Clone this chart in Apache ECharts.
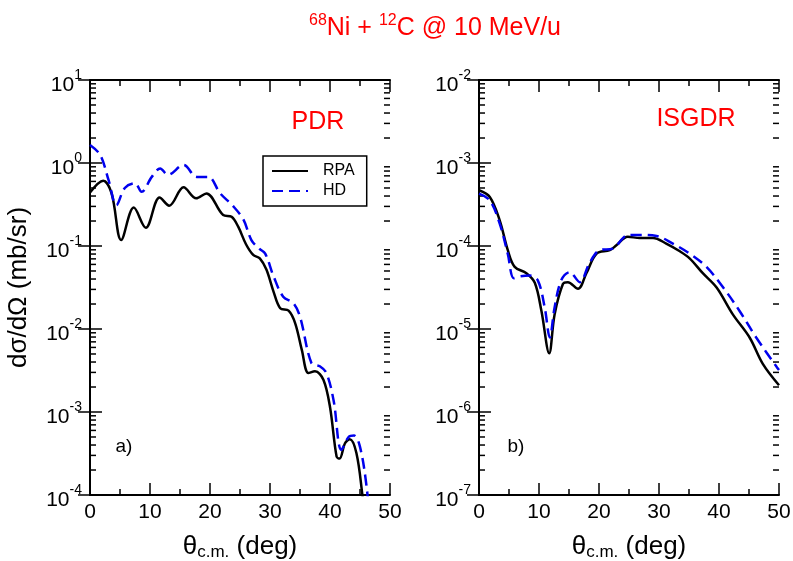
<!DOCTYPE html>
<html><head><meta charset="utf-8">
<script src="https://cdn.jsdelivr.net/npm/echarts@6/dist/echarts.min.js"></script>
<style>html,body{margin:0;padding:0;background:#fff}#c{width:793px;height:561px}</style>
</head><body><div id="c"></div>
<script>
// ---- Data (angle in deg, cross section in mb/sr) ----
const pdrRpaX = [0, 2.2, 3.6, 5.2, 7.3, 9.3, 11.6, 13.2, 15.6, 17.7, 19.4, 22.2, 23.6, 24.7, 26.0, 27.2, 28.3, 29.4, 30.6, 31.7, 33.1, 34.2, 35.3, 36.4, 37.5, 38.9, 40.0, 41.1, 41.6, 42.5, 43.3, 44.4, 45.4, 46.0];
const pdrRpaY = [0.44, 0.61, 0.43, 0.118, 0.29, 0.166, 0.385, 0.306, 0.51, 0.375, 0.43, 0.236, 0.225, 0.171, 0.105, 0.078, 0.071, 0.052, 0.028, 0.0178, 0.0166, 0.0117, 0.0056, 0.00295, 0.0031, 0.00245, 0.00115, 0.00029, 0.000275, 0.00042, 0.00047, 0.00032, 0.0001, 0.00004];
const pdrHdX = [0, 1.7, 3.1, 4.4, 5.8, 7.5, 8.6, 10.3, 11.7, 13.0, 15.6, 17.8, 19.7, 21.7, 23.9, 25.6, 26.9, 28.2, 29.2, 30.6, 32.2, 33.9, 35.0, 36.9, 38.3, 39.4, 40.6, 41.9, 43.1, 44.0, 45.0, 46.1, 46.7];
const pdrHdY = [1.65, 1.25, 0.62, 0.31, 0.50, 0.57, 0.45, 0.68, 0.86, 0.72, 0.95, 0.68, 0.68, 0.43, 0.30, 0.206, 0.118, 0.093, 0.081, 0.043, 0.0245, 0.0204, 0.0141, 0.0039, 0.00355, 0.00295, 0.00138, 0.00035, 0.0005, 0.00052, 0.00038, 0.000126, 0.00004];

const isgRpaX = [0, 1.8, 3.45, 4.8, 5.95, 7.9, 9.3, 10.4, 11.7, 12.6, 14.0, 14.8, 16.5, 17.9, 19.6, 21.8, 22.9, 24.8, 26.8, 29.0, 31.2, 33.4, 35.1, 37.3, 39.6, 42.3, 45.1, 47.3, 50];
const isgRpaY = [4.7e-4, 3.9e-4, 2.04e-4, 8.9e-5, 5.6e-5, 4.7e-5, 3.6e-5, 1.66e-5, 5.1e-6, 1.5e-5, 3.5e-5, 3.67e-5, 3.05e-5, 4.7e-5, 8.1e-5, 8.9e-5, 1.02e-4, 1.29e-4, 1.25e-4, 1.25e-4, 1.07e-4, 8.7e-5, 7.1e-5, 4.7e-5, 3.16e-5, 1.5e-5, 7.9e-6, 3.8e-6, 2.1e-6];
const isgHdX = [0, 1.8, 3.45, 4.8, 5.8, 6.8, 8.45, 9.8, 10.95, 11.8, 12.6, 13.7, 15.1, 16.8, 18.4, 20.1, 22.3, 24.8, 26.8, 29.6, 32.3, 35.1, 37.9, 40.7, 43.4, 46.2, 49.6, 50];
const isgHdY = [4.27e-4, 3.55e-4, 1.86e-4, 8.0e-5, 4.1e-5, 4.3e-5, 4.4e-5, 3.85e-5, 1.82e-5, 7.9e-6, 1.82e-5, 3.85e-5, 4.84e-5, 3.67e-5, 6.2e-5, 8.9e-5, 9.3e-5, 1.35e-4, 1.36e-4, 1.32e-4, 1.07e-4, 8.1e-5, 5.6e-5, 3.16e-5, 1.66e-5, 7.9e-6, 3.5e-6, 3.2e-6];

const seriesNames = ['RPA', 'HD'];
const panelLabels = ['PDR', 'ISGDR'];
const panelTags = ['a)', 'b)'];
const leftDecades = [-4, -3, -2, -1, 0];
const rightDecades = [-7, -6, -5, -4, -3];
const minorMult = [2, 3, 4, 5, 6, 7, 8, 9];

function zip(xs, ys) { return xs.map((x, i) => [x, ys[i]]); }
function minorVals(decs) {
  const out = [];
  decs.forEach(d => minorMult.forEach(m => out.push([0, m * Math.pow(10, d)])));
  return out;
}

const FONT = '"Liberation Sans", Arial, sans-serif';
const chart = echarts.init(document.getElementById('c'), null, {renderer: 'canvas'});

const grids = [
  {left: 90, top: 80, width: 300, height: 415},
  {left: 479, top: 80, width: 300, height: 415}
];
const yRanges = [[1e-4, 1e1], [1e-7, 1e-2]];

const xAxes = [], yAxes = [];
[0, 1].forEach(g => {
  xAxes.push({
    type: 'value', gridIndex: g, min: 0, max: 50, interval: 10, position: 'bottom',
    axisLine: {lineStyle: {color: '#000', width: 2}},
    axisTick: {inside: true, length: 12, lineStyle: {color: '#000', width: 1.5}},
    minorTick: {show: true, splitNumber: 2, length: 6, lineStyle: {color: '#000', width: 1.5}},
    splitLine: {show: false},
    axisLabel: {color: '#000', fontSize: 21, fontFamily: FONT, margin: 7},
    name: 'θ{sub|c.m.} (deg)', nameLocation: 'middle', nameGap: 37,
    nameTextStyle: {color: '#000', fontSize: 26, fontFamily: FONT,
      rich: {sub: {fontSize: 17, fontFamily: FONT, color: '#000', verticalAlign: 'bottom', padding: [12, 0, 0, 0]}}}
  });
  xAxes.push({
    type: 'value', gridIndex: g, min: 0, max: 50, interval: 10, position: 'top',
    axisLine: {lineStyle: {color: '#000', width: 2}},
    axisTick: {inside: true, length: 12, lineStyle: {color: '#000', width: 1.5}},
    minorTick: {show: true, splitNumber: 2, length: 6, lineStyle: {color: '#000', width: 1.5}},
    splitLine: {show: false}, axisLabel: {show: false}
  });
  const lbl = {
    color: '#000', fontSize: 21, fontFamily: FONT, margin: 8,
    formatter: v => '{b|10}{sup|' + Math.round(Math.log10(v)) + '}',
    rich: {
      b: {fontSize: 21, fontFamily: FONT, color: '#000', padding: [10, 0, 0, 0]},
      sup: {fontSize: 14, fontFamily: FONT, color: '#000', verticalAlign: 'top', padding: [4, 0, 0, 0]}
    }
  };
  yAxes.push({
    type: 'log', logBase: 10, gridIndex: g, min: yRanges[g][0], max: yRanges[g][1], position: 'left',
    axisLine: {lineStyle: {color: '#000', width: 2}},
    axisTick: {inside: true, length: 12, lineStyle: {color: '#000', width: 1.5}},
    splitLine: {show: false}, axisLabel: lbl,
    name: g === 0 ? 'dσ/dΩ (mb/sr)' : '', nameLocation: 'middle', nameGap: 58,
    nameTextStyle: {color: '#000', fontSize: 26, fontFamily: FONT}
  });
  yAxes.push({
    type: 'log', logBase: 10, gridIndex: g, min: yRanges[g][0], max: yRanges[g][1], position: 'right',
    axisLine: {lineStyle: {color: '#000', width: 2}},
    axisTick: {inside: true, length: 12, lineStyle: {color: '#000', width: 1.5}},
    splitLine: {show: false}, axisLabel: {show: false}
  });
});

function minorRender(params, api) {
  const cs = params.coordSys;
  const p = api.coord([api.value(0), api.value(1)]);
  const y = p[1];
  const st = {stroke: '#000', lineWidth: 1.5};
  return {type: 'group', children: [
    {type: 'line', shape: {x1: cs.x, y1: y, x2: cs.x + 6, y2: y}, style: st},
    {type: 'line', shape: {x1: cs.x + cs.width - 6, y1: y, x2: cs.x + cs.width, y2: y}, style: st}
  ]};
}

const lineBase = {type: 'line', showSymbol: false, symbol: 'none', smooth: 0.35, clip: true, z: 3};
const rpaStyle = {color: '#000', width: 2.5, type: 'solid'};
const hdStyle = {color: '#0000ee', width: 2.5, type: [11, 6]};

const series = [
  Object.assign({}, lineBase, {name: seriesNames[0], xAxisIndex: 0, yAxisIndex: 0, data: zip(pdrRpaX, pdrRpaY), lineStyle: rpaStyle, itemStyle: {color: '#000'}}),
  Object.assign({}, lineBase, {name: seriesNames[1], xAxisIndex: 0, yAxisIndex: 0, data: zip(pdrHdX, pdrHdY), lineStyle: hdStyle, itemStyle: {color: '#0000ee'}}),
  Object.assign({}, lineBase, {name: seriesNames[0], xAxisIndex: 2, yAxisIndex: 2, data: zip(isgRpaX, isgRpaY), lineStyle: rpaStyle, itemStyle: {color: '#000'}}),
  Object.assign({}, lineBase, {name: seriesNames[1], xAxisIndex: 2, yAxisIndex: 2, data: zip(isgHdX, isgHdY), lineStyle: hdStyle, itemStyle: {color: '#0000ee'}}),
  {type: 'custom', xAxisIndex: 0, yAxisIndex: 0, data: minorVals(leftDecades), renderItem: minorRender, silent: true, clip: false},
  {type: 'custom', xAxisIndex: 2, yAxisIndex: 2, data: minorVals(rightDecades), renderItem: minorRender, silent: true, clip: false}
];

chart.setOption({
  animation: false,
  backgroundColor: '#fff',
  title: {
    text: '{sup|68}Ni + {sup|12}C @ 10 MeV/u',
    left: 430, top: 8, textAlign: 'center',
    textStyle: {color: '#ff0000', fontSize: 25, fontWeight: 'normal', fontFamily: FONT,
      rich: {sup: {color: '#ff0000', fontSize: 16, fontFamily: FONT, verticalAlign: 'top', padding: [0, 0, 14, 0]}}}
  },
  legend: {
    data: [{name: seriesNames[0]}, {name: seriesNames[1]}],
    orient: 'vertical', left: 263, top: 156,
    padding: [7, 12, 7, 8], itemGap: 4, itemWidth: 36, itemHeight: 14,
    borderColor: '#000', borderWidth: 1.5, borderRadius: 0, backgroundColor: '#fff',
    itemStyle: {opacity: 0},
    textStyle: {color: '#000', fontSize: 16, fontFamily: FONT, padding: [0, 0, 0, 10]}
  },
  graphic: [
    {type: 'text', x: 318, y: 122, style: {text: panelLabels[0], fill: '#ff0000', fontSize: 25, fontFamily: FONT, textAlign: 'center', textVerticalAlign: 'middle'}},
    {type: 'text', x: 696, y: 119, style: {text: panelLabels[1], fill: '#ff0000', fontSize: 25, fontFamily: FONT, textAlign: 'center', textVerticalAlign: 'middle'}},
    {type: 'text', x: 124, y: 447, style: {text: panelTags[0], fill: '#000', fontSize: 19, fontFamily: FONT, textAlign: 'center', textVerticalAlign: 'middle'}},
    {type: 'text', x: 516, y: 447, style: {text: panelTags[1], fill: '#000', fontSize: 19, fontFamily: FONT, textAlign: 'center', textVerticalAlign: 'middle'}}
  ],
  grid: grids.map(g => Object.assign({containLabel: false, outerBoundsMode: 'none'}, g)),
  xAxis: xAxes,
  yAxis: yAxes,
  series: series
});
</script>
</body></html>
